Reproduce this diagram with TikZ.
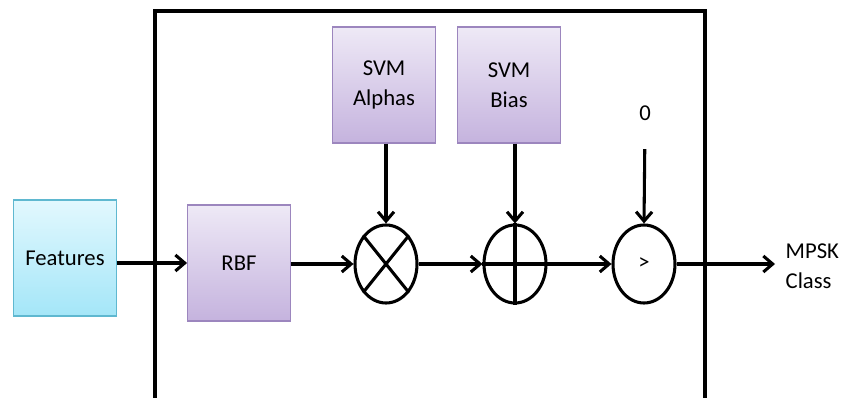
\documentclass[tikz,border=0pt]{standalone}
\usepackage{fontspec}
\setmainfont{Carlito}
\usetikzlibrary{arrows.meta,shapes.geometric}
\definecolor{cyanedge}{HTML}{5FB8D0}
\definecolor{cyantop}{HTML}{E2F8FE}
\definecolor{cyanbot}{HTML}{A4E6F8}
\definecolor{lilacedge}{HTML}{9C86BE}
\definecolor{lilactop}{HTML}{EEE9F6}
\definecolor{lilacbot}{HTML}{C5B3DE}
\tikzset{
    block-box/.style = {rectangle, line width=0.9pt, minimum width=77pt, minimum height=87pt, align=center, inner sep=2pt},
    feature-box/.style = {block-box, draw=cyanedge, top color=cyantop, bottom color=cyanbot},
    svm-box/.style = {block-box, draw=lilacedge, top color=lilactop, bottom color=lilacbot},
    op-circle/.style = {ellipse, draw, line width=2.3pt, minimum width=46.5pt, minimum height=58.5pt, inner sep=0pt},
    flow/.style = {line width=2.3pt, -{Straight Barb[length=7pt,width=12pt,line width=2.3pt]}},
}

\begin{document}
\begin{tikzpicture}[x=0.75pt, y=-0.75pt, font=\fontsize{17}{22.5}\selectfont]
\useasboundingbox (0,0) rectangle (841,398);
% frame round the classifier, open at the bottom
\draw[line width=2.8pt] (155,398) -- (155,11) -- (705,11) -- (705,398);
\node[feature-box] (features) at (65,258) {Features};
\node[svm-box] (rbf) at (239,263) {RBF};
\node[svm-box] (alphas) at (384,85) {SVM\\Alphas};
\node[svm-box] (bias) at (509,85) {SVM\\Bias};
\node[op-circle] (mult) at (386,264) {};
\node[op-circle] (add) at (515,264) {};
\node[op-circle] (cmp) at (644,264) {>};
\node (zero) at (645,113) {0};
\coordinate (out) at (775,264);
\node[anchor=west, align=left] (class) at (781,266) {MPSK\\Class};
% operator symbols
\draw[line width=2.3pt] (mult.north east) -- (mult.south west) (mult.north west) -- (mult.south east);
\draw[line width=2.3pt] (add.north) -- (add.south) (add.west) -- (add.east);
% signal path
\draw[flow] (features.east |- rbf) -- (rbf.west);
\draw[flow] (rbf.east |- mult) -- (mult.west);
\draw[flow] (mult.east) -- (add.west);
\draw[flow] (add.east) -- (cmp.west);
\draw[flow] (cmp.east) -- (out);
\draw[flow] (alphas.south -| mult) -- (mult.north);
\draw[flow] (bias.south -| add) -- (add.north);
\draw[flow, shorten <=18pt] (zero.south) -- (cmp.north);
\end{tikzpicture}
\end{document}
